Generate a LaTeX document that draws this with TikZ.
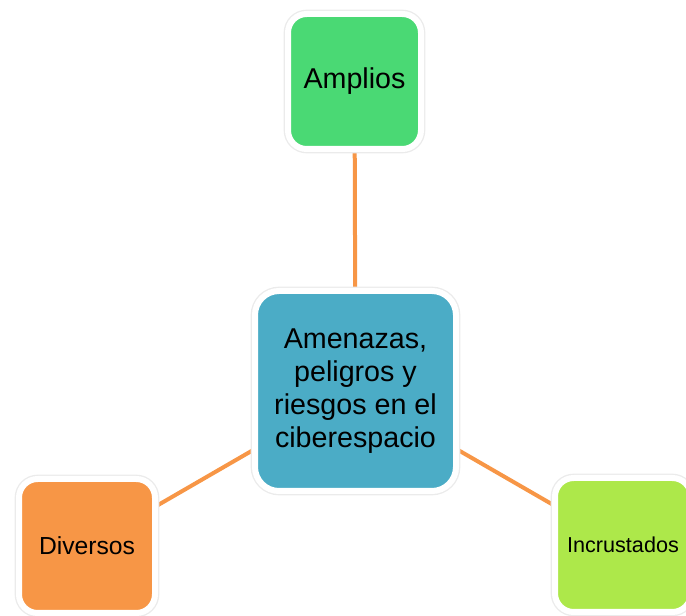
\documentclass[tikz,border=0pt]{standalone}
\usepackage{fontspec}
\setmainfont{Liberation Sans}
\usetikzlibrary{positioning,backgrounds}
\definecolor{centroblue}{RGB}{75,172,198}
\definecolor{ampliosgreen}{RGB}{74,217,116}
\definecolor{diversosorange}{RGB}{247,150,70}
\definecolor{incrustgreen}{RGB}{173,232,74}
\definecolor{linkorange}{RGB}{247,150,70}
\tikzset{
  box/.style={draw=white, line width=4.5pt, rounded corners=14pt, align=center,
    text=black, inner sep=2pt, preaction={draw=black!8, line width=6.5pt}},
  link/.style={draw=linkorange, line width=3pt}
}

\begin{document}
\begin{tikzpicture}[x=0.75pt,y=0.75pt,yscale=-1,xscale=1]
\useasboundingbox (0,0) rectangle (686,616);

% Center
\node [box, fill=centroblue, rounded corners=18pt, minimum width=150.75pt, minimum height=150pt,
  font=\fontsize{21.5}{24.75}\selectfont] (centro) at (355.5,391)
  {Amenazas,\\peligros y\\riesgos en el\\ciberespacio};
% Top
\node [box, fill=ampliosgreen, minimum width=99.75pt, minimum height=101.25pt,
  font=\fontsize{21.5}{24}\selectfont] (amplios) at (354.5,81.5) {Amplios};
% Bottom left
\node [box, fill=diversosorange, minimum width=102pt, minimum height=100.5pt,
  font=\fontsize{18.5}{22}\selectfont] (diversos) at (87,546) {Diversos};
% Bottom right
\node [box, fill=incrustgreen, minimum width=102pt, minimum height=100.5pt,
  font=\fontsize{16.2}{20}\selectfont] (incrustados) at (623,545) {Incrustados};

% Links
\begin{scope}[on background layer]
\draw [link] (centro) -- (amplios);
\draw [link] (centro) -- (diversos);
\draw [link] (centro) -- (incrustados);
\end{scope}

\end{tikzpicture}
\end{document}
